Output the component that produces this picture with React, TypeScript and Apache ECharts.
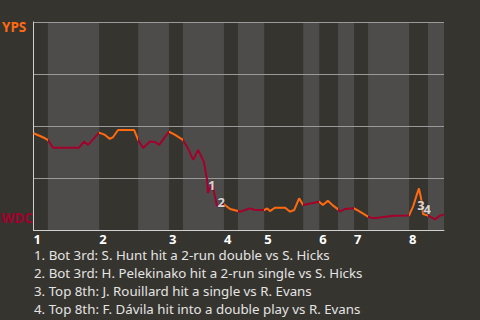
import React, { useEffect, useRef } from "react";
import * as echarts from "echarts";

const innings = ["1", "2", "3", "4", "5", "6", "7", "8"];
// game progress (%) at which each top half begins
const inningStarts = [0, 16.0, 33.0, 46.4, 56.2, 69.6, 78.1, 91.5];
// bottom halves [start, end] in game progress (%)
const bottomHalves: [number, number][] = [
  [3.5, 16.0], [25.5, 33.0], [36.4, 46.4], [49.8, 56.2],
  [65.7, 69.6], [74.2, 78.1], [81.5, 91.5], [96.1, 100],
];

// game progress (%) of each play
const progress = [
  0, 1.6, 2.8, 3.5, 4.75, 11.1, 12.3, 13.3, 16.0, 17.4, 18.6, 19.4, 20.6, 24.5,
  25.5, 26.7, 28.4, 29.6, 30.6, 33.0, 34.5, 36.4, 37.6, 38.9, 40.1, 41.5, 42.3,
  42.5, 43.0, 43.5, 44.7, 45.9, 46.4, 47.9, 49.8, 50.3, 52.7, 54.0, 56.2, 56.9,
  57.6, 58.8, 61.3, 62.5, 63.5, 64.7, 65.7, 66.9, 69.6, 70.5, 71.7, 73.0, 74.2,
  74.7, 75.9, 78.1, 79.5, 81.5, 82.7, 83.9, 87.6, 91.5, 92.5, 93.2, 93.9, 94.4,
  94.9, 96.1, 97.8, 99.0, 100,
];
// YPS win probability (%) after each play
const ypsWinPct = [
  46.5, 45.2, 44.1, 43.3, 39.6, 39.6, 42.5, 40.9, 46.8, 45.7, 43.8, 44.7, 48.1,
  48.1, 43.3, 39.4, 42.5, 42.3, 40.9, 47.3, 45.7, 43.3, 39.4, 33.7, 38.5, 32.8,
  24.0, 17.8, 20.2, 22.6, 11.5, 12.0, 12.3, 10.1, 9.1, 8.8, 10.4, 9.6, 9.6, 10.4,
  9.1, 10.7, 10.7, 8.8, 9.6, 15.2, 12.0, 12.5, 13.6, 12.0, 14.1, 11.7, 9.9, 8.8,
  10.1, 10.4, 8.8, 6.4, 5.6, 5.9, 6.9, 7.0, 11.5, 15.9, 20.0, 15.4, 7.7, 6.9,
  5.1, 6.9, 7.5,
];

const markerLabels = ["1", "2", "3", "4"];
const markerX = [43.4, 45.7, 94.4, 95.9];
const markerY = [21.4, 13.5, 12.0, 10.1];

const notes = [
  "1. Bot 3rd: S. Hunt hit a 2-run double vs S. Hicks",
  "2. Bot 3rd: H. Pelekinako hit a 2-run single vs S. Hicks",
  "3. Top 8th: J. Rouillard hit a single vs R. Evans",
  "4. Top 8th: F. Dávila hit into a double play vs R. Evans",
];

const ORANGE = "#ff6a10";
const CRIMSON = "#a3002c";
const BG = "#36342f";
const BAND = "#4d4c4a";
const FONT = "Noto Sans";

export default function App() {
  const ref = useRef<HTMLDivElement>(null);
  useEffect(() => {
    document.body.style.margin = "0";
    const chart = echarts.init(ref.current!, null, { renderer: "svg" });

    const pieces: any[] = [];
    for (let i = 0; i < bottomHalves.length; i++) {
      pieces.push({ gte: inningStarts[i], lt: bottomHalves[i][0], color: ORANGE });
      const last = i === bottomHalves.length - 1;
      if (last) pieces.push({ gte: bottomHalves[i][0], lte: bottomHalves[i][1], color: CRIMSON });
      else pieces.push({ gte: bottomHalves[i][0], lt: bottomHalves[i][1], color: CRIMSON });
    }

    chart.setOption({
      animation: false,
      backgroundColor: BG,
      textStyle: { fontFamily: FONT },
      grid: { left: 33.5, right: 36, top: 22, bottom: 90, containLabel: false },
      xAxis: {
        type: "value",
        min: 0,
        max: 100,
        z: 2,
        splitLine: { show: false },
        axisTick: { show: false },
        axisLine: { show: true, lineStyle: { color: "#cfcfcf", width: 1 } },
        axisLabel: {
          customValues: inningStarts,
          formatter: (v: number) => {
            const i = inningStarts.findIndex((s) => Math.abs(s - v) < 0.01);
            return i >= 0 ? innings[i] : "";
          },
          align: "left",
          color: "#ffffff",
          fontWeight: "bold",
          fontSize: 13,
          lineHeight: 12,
          fontFamily: FONT,
          margin: 3,
        },
      },
      yAxis: {
        type: "value",
        min: 0,
        max: 100,
        interval: 25,
        z: 2,
        axisLabel: { show: false },
        axisTick: { show: false },
        axisLine: { show: true, lineStyle: { color: "#cfcfcf", width: 1 } },
        splitLine: { show: true, lineStyle: { color: "#9a9a9a", width: 1 } },
      },
      visualMap: {
        type: "piecewise",
        show: false,
        dimension: 0,
        seriesIndex: 1,
        pieces,
      },
      graphic: [
        {
          type: "text",
          left: 2,
          top: 20,
          style: { text: "YPS", fill: ORANGE, font: `bold 13.5px "${FONT}"` },
        },
        {
          type: "text",
          left: 1,
          top: 211,
          style: { text: "WDC", fill: CRIMSON, font: `bold 13.5px "${FONT}"` },
        },
        ...notes.map((t, i) => ({
          type: "text",
          left: 34,
          top: 248 + i * 18,
          style: { text: t, fill: "#e4e4e4", font: `13.3px "${FONT}"`, lineHeight: 14 },
        })),
      ],
      series: [
        {
          type: "line",
          z: 1,
          data: [],
          silent: true,
          markArea: {
            silent: true,
            itemStyle: { color: BAND },
            data: bottomHalves.map(([a, b]) => [{ xAxis: a }, { xAxis: b }]),
          },
        },
        {
          type: "line",
          z: 3,
          symbol: "none",
          lineStyle: { width: 2 },
          data: progress.map((x, i) => [x, ypsWinPct[i]]),
        },
        {
          type: "scatter",
          z: 4,
          symbolSize: 0,
          silent: true,
          data: markerX.map((x, i) => [x, markerY[i], markerLabels[i]]),
          label: {
            show: true,
            position: "inside",
            formatter: (p: any) => p.value[2],
            color: "#ffffff",
            fontWeight: "bold",
            fontSize: 13,
            fontFamily: FONT,
            textBorderColor: "#333",
            textBorderWidth: 1,
          },
        },
      ],
    });
    return () => chart.dispose();
  }, []);
  return <div ref={ref} style={{ width: 480, height: 320 }} />;
}
